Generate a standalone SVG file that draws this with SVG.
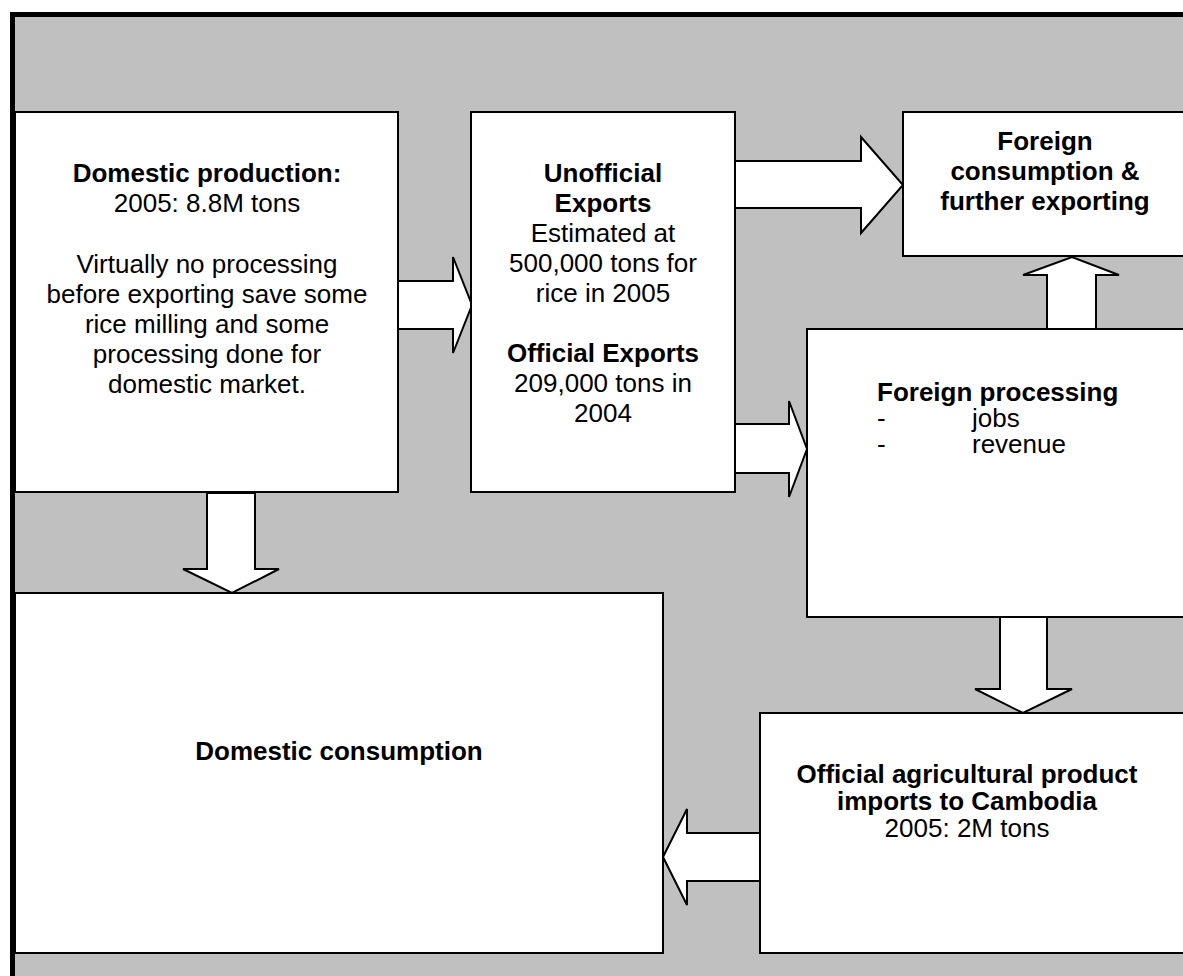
<svg xmlns="http://www.w3.org/2000/svg" width="1183" height="976" viewBox="0 0 1183 976">
<style>
.box{fill:#fff;stroke:#000;stroke-width:2}
.arr{fill:#fff;stroke:#000;stroke-width:2;stroke-linejoin:miter}
text{font-family:"Liberation Sans",Arial,sans-serif;font-size:26px;fill:#000}
.b{font-weight:bold}
.c{text-anchor:middle}
</style>
<rect x="0" y="0" width="1183" height="976" fill="#fff"/>
<rect x="12.5" y="14.5" width="1200" height="1000" fill="#c0c0c0" stroke="#000" stroke-width="5"/>
<g id="connectors">
<polygon class="arr" points="398,281 453,281 453,257 472,305 453,353 453,329 398,329"/>
<polygon class="arr" points="735,161 861,161 861,137 903,185 861,233 861,208 735,208"/>
<polygon class="arr" points="735,424 789,424 789,401 807,449 789,497 789,473 735,473"/>
<polygon class="arr" points="207,493 255,493 255,569 279,569 232,593 183,569 207,569"/>
<polygon class="arr" points="1000,617 1047,617 1047,689 1072,689 1023,713 975,689 1000,689"/>
<polygon class="arr" points="760,833 687,833 687,809 663,857 687,905 687,881 760,881"/>
<polygon class="arr" points="1047,329 1047,275 1023,275 1072,257 1119,275 1096,275 1096,329"/>
</g>
<g id="domestic-production">
<rect class="box" x="15" y="112" width="383" height="380"/>
<text class="c" x="207" y="182"><tspan class="b">Domestic production:</tspan><tspan x="207" y="212">2005: 8.8M tons</tspan><tspan x="207" y="273">Virtually no processing</tspan><tspan x="207" y="303">before exporting save some</tspan><tspan x="207" y="333">rice milling and some</tspan><tspan x="207" y="363">processing done for</tspan><tspan x="207" y="393">domestic market.</tspan></text>
</g>
<g id="unofficial-exports">
<rect class="box" x="471" y="112" width="264" height="380"/>
<text class="c" x="603" y="182"><tspan class="b">Unofficial</tspan><tspan class="b" x="603" y="212">Exports</tspan><tspan x="603" y="242">Estimated at</tspan><tspan x="603" y="272">500,000 tons for</tspan><tspan x="603" y="302">rice in 2005</tspan><tspan class="b" x="603" y="362">Official Exports</tspan><tspan x="603" y="392">209,000 tons in</tspan><tspan x="603" y="422">2004</tspan></text>
</g>
<g id="foreign-consumption">
<rect class="box" x="903" y="112" width="290" height="144"/>
<text class="c b" x="1045" y="150"><tspan>Foreign</tspan><tspan x="1045" y="180">consumption &amp;</tspan><tspan x="1045" y="210">further exporting</tspan></text>
</g>
<g id="foreign-processing">
<rect class="box" x="807" y="329" width="390" height="288"/>
<text x="877" y="401"><tspan class="b">Foreign processing</tspan><tspan x="877" y="427">-</tspan><tspan x="972" y="427">jobs</tspan><tspan x="877" y="453">-</tspan><tspan x="972" y="453">revenue</tspan></text>
</g>
<g id="domestic-consumption">
<rect class="box" x="15" y="593" width="648" height="360"/>
<text class="c b" x="339" y="760">Domestic consumption</text>
</g>
<g id="official-imports">
<rect class="box" x="760" y="713" width="430" height="240"/>
<text class="c" x="967" y="783"><tspan class="b">Official agricultural product</tspan><tspan class="b" x="967" y="810">imports to Cambodia</tspan><tspan x="967" y="837">2005: 2M tons</tspan></text>
</g>
</svg>
